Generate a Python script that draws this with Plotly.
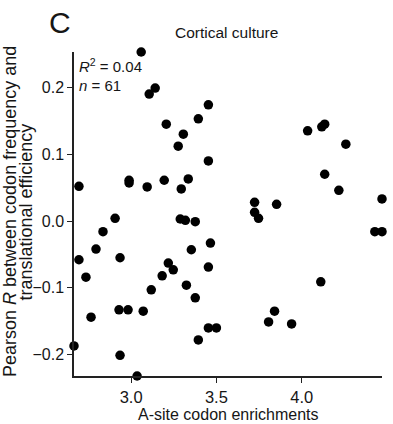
import plotly.graph_objects as go

x_vals = [3.059, 3.106, 3.141, 3.206, 3.306, 3.276, 3.394, 3.453, 4.035, 4.118,
          4.135, 4.259, 2.694, 2.694, 2.735, 2.794, 2.835, 2.906, 2.935, 2.988,
          2.988, 3.094, 3.194, 3.294, 3.335, 3.288, 3.318, 3.376, 3.353, 3.218,
          3.247, 3.182, 3.118, 3.324, 3.453, 3.724, 3.724, 3.747, 3.853, 4.135,
          4.218, 4.471, 4.429, 4.471, 3.465, 3.453, 4.112, 2.665, 2.765, 2.929,
          2.982, 3.071, 2.935, 3.035, 3.376, 3.394, 3.453, 3.500, 3.806, 3.841,
          3.941]
y_vals = [0.253, 0.190, 0.199, 0.145, 0.130, 0.112, 0.153, 0.174, 0.135, 0.141,
          0.145, 0.115, 0.052, -0.058, -0.084, -0.042, -0.016, 0.004, -0.055, 0.061,
          0.057, 0.051, 0.061, 0.048, 0.063, 0.003, 0.001, -0.001, -0.043, -0.063,
          -0.073, -0.082, -0.103, -0.096, 0.090, 0.028, 0.013, 0.004, 0.025, 0.070,
          0.046, 0.033, -0.016, -0.016, -0.033, -0.069, -0.091, -0.187, -0.144, -0.133,
          -0.133, -0.135, -0.201, -0.232, -0.115, -0.178, -0.160, -0.160, -0.151, -0.135,
          -0.154]

x_ticks = [3.0, 3.5, 4.0]
x_tick_labels = ["3.0", "3.5", "4.0"]
y_ticks = [-0.2, -0.1, 0.0, 0.1, 0.2]
y_tick_labels = ["\u22120.2", "\u22120.1", "0.0", "0.1", "0.2"]

FONT = "Liberation Sans, Arial, Helvetica, sans-serif"
TXT = "#161616"

# plot area in pixels: x 74..382, y 52..376
L, R, T, B = 74, 11, 52, 48
W, H = 393, 424
PW, PH = W - L - R, H - T - B


def px(xp):
    return (xp - L) / PW


def py(yp):
    return (H - B - yp) / PH


fig = go.Figure()
fig.add_trace(go.Scatter(
    x=x_vals, y=y_vals, mode="markers",
    marker=dict(color="black", size=9.5, line=dict(width=0)),
    cliponaxis=False, showlegend=False, hoverinfo="skip",
))

ann = [
    dict(text="Cortical culture", x=px(226), y=py(33), font=dict(size=15.5),
         xanchor="center", yanchor="middle"),
    dict(text="C", x=px(60), y=py(22), font=dict(size=30),
         xanchor="center", yanchor="middle"),
    dict(text="<i>R</i><sup>2</sup> = 0.04", x=px(77), y=py(66), font=dict(size=15),
         xanchor="left", yanchor="middle"),
    dict(text="<i>n</i> = 61", x=px(77), y=py(85), font=dict(size=15),
         xanchor="left", yanchor="middle"),
    dict(text="A-site codon enrichments", x=px(228), y=py(414), font=dict(size=16),
         xanchor="center", yanchor="middle"),
    dict(text="Pearson <i>R</i> between codon frequency and", x=px(10), y=py(212),
         textangle=-90, font=dict(size=18), xanchor="center", yanchor="middle"),
    dict(text="translational efficiency", x=px(25.5), y=py(212),
         textangle=-90, font=dict(size=18), xanchor="center", yanchor="middle"),
]
for a in ann:
    a.update(xref="paper", yref="paper", showarrow=False)
    a["font"].update(family=FONT, color=TXT)

fig.update_layout(
    width=W, height=H,
    margin=dict(l=L, r=R, t=T, b=B),
    paper_bgcolor="white", plot_bgcolor="white",
    font=dict(family=FONT, size=16, color=TXT),
    xaxis=dict(
        range=[min(x_vals), max(x_vals)],
        showgrid=False, zeroline=False, showline=True, linecolor="#222", linewidth=1.5,
        ticks="outside", ticklen=5, tickwidth=1.3, tickcolor="#222",
        tickvals=x_ticks, ticktext=x_tick_labels, tickfont=dict(size=16.5),
    ),
    yaxis=dict(
        range=[min(y_vals), max(y_vals)],
        showgrid=False, zeroline=False, showline=True, linecolor="#222", linewidth=1.5,
        ticks="outside", ticklen=5, tickwidth=1.3, tickcolor="#222",
        tickvals=y_ticks, ticktext=y_tick_labels, tickfont=dict(size=16),
    ),
    annotations=ann,
)

fig.write_html("out.html")
